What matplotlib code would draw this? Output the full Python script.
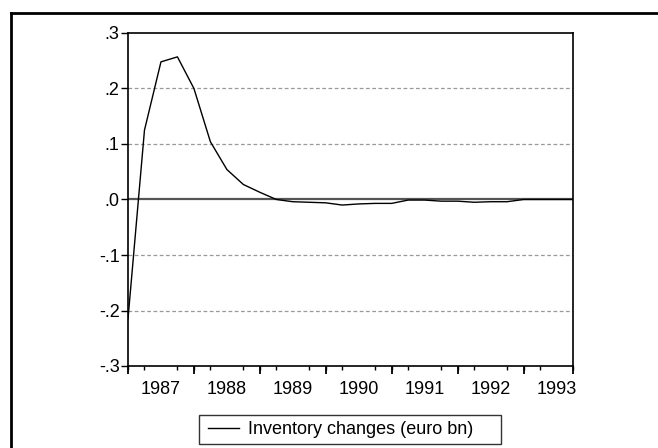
import matplotlib
matplotlib.use("Agg")
import matplotlib.pyplot as plt
from matplotlib.lines import Line2D
from matplotlib.patches import Rectangle
import numpy as np

plt.rcParams['font.family'] = ['Liberation Sans', 'DejaVu Sans']

# quarterly observations, 1987Q1 .. 1993Q4
inventory = [-0.215, 0.125, 0.248, 0.257, 0.200, 0.104, 0.054, 0.027,
             0.013, 0.000, -0.004, -0.005, -0.006, -0.010, -0.008, -0.007,
             -0.007, -0.001, -0.001, -0.003, -0.003, -0.005, -0.004, -0.004,
             0.000, 0.000, 0.000, 0.000]
years = ["1987", "1988", "1989", "1990", "1991", "1992", "1993"]
yticks = [-0.3, -0.2, -0.1, 0.0, 0.1, 0.2, 0.3]
ylabels = ["-.3", "-.2", "-.1", ".0", ".1", ".2", ".3"]
label = "Inventory changes (euro bn)"

fs = 13
W, H = 658, 448

fig = plt.figure(figsize=(W / 100, H / 100), dpi=100)
ax = fig.add_axes([128 / W, 1 - 366 / H, (573 - 128) / W, (366 - 33) / H])

n = len(inventory)
x = np.arange(n)

for v in [-0.2, -0.1, 0.1, 0.2]:
    ax.axhline(v, color="#999999", linewidth=0.9, linestyle=(0, (3, 2)), zorder=1)
ax.axhline(0.0, color="#555555", linewidth=1.6, zorder=1)

ax.plot(x, inventory, color="black", linewidth=1.0, label=label, zorder=3)

ax.set_xlim(0, n - 1)
ax.set_ylim(-0.3, 0.3)

ax.set_yticks(yticks)
ax.set_yticklabels(ylabels, fontsize=fs)
ax.tick_params(axis="y", direction="out", length=5, width=1, pad=1)

# year labels centred in each year, quarter ticks as minor
ax.set_xticks([4 * k + 2 for k in range(len(years))])
ax.set_xticklabels(years, fontsize=fs)
ax.tick_params(axis="x", which="major", length=0, pad=11)
ax.set_xticks(x, minor=True)
ax.tick_params(axis="x", which="minor", direction="out", length=3, width=1)

sec = ax.secondary_xaxis("bottom")
sec.set_xticks([0, 4, 8, 12, 16, 20, 24, 27])
sec.set_xticklabels([])
sec.tick_params(direction="out", length=6, width=1.3)
sec.spines["bottom"].set_visible(False)

for s in ax.spines.values():
    s.set_linewidth(1.2)

leg = fig.legend(loc="center left", bbox_to_anchor=(199 / W, 1 - 429.5 / H),
                 fontsize=fs, frameon=False, handlelength=1.72,
                 handletextpad=0.5, borderpad=0.5, borderaxespad=0)

# legend box, wider on the right like the original
fig.add_artist(Rectangle((199 / W, 1 - 444 / H), (501 - 199) / W, 29 / H,
                         transform=fig.transFigure, fill=False,
                         edgecolor="#333333", linewidth=1.0))

# outer frame (only left and top edges visible)
fig.add_artist(Line2D([11 / W, 11 / W], [-0.01, 1 - 13 / H], color="black",
                      linewidth=2, transform=fig.transFigure))
fig.add_artist(Line2D([11 / W, 1.01], [1 - 13 / H, 1 - 13 / H], color="black",
                      linewidth=2, transform=fig.transFigure))

fig.savefig("out.png", dpi=100)
